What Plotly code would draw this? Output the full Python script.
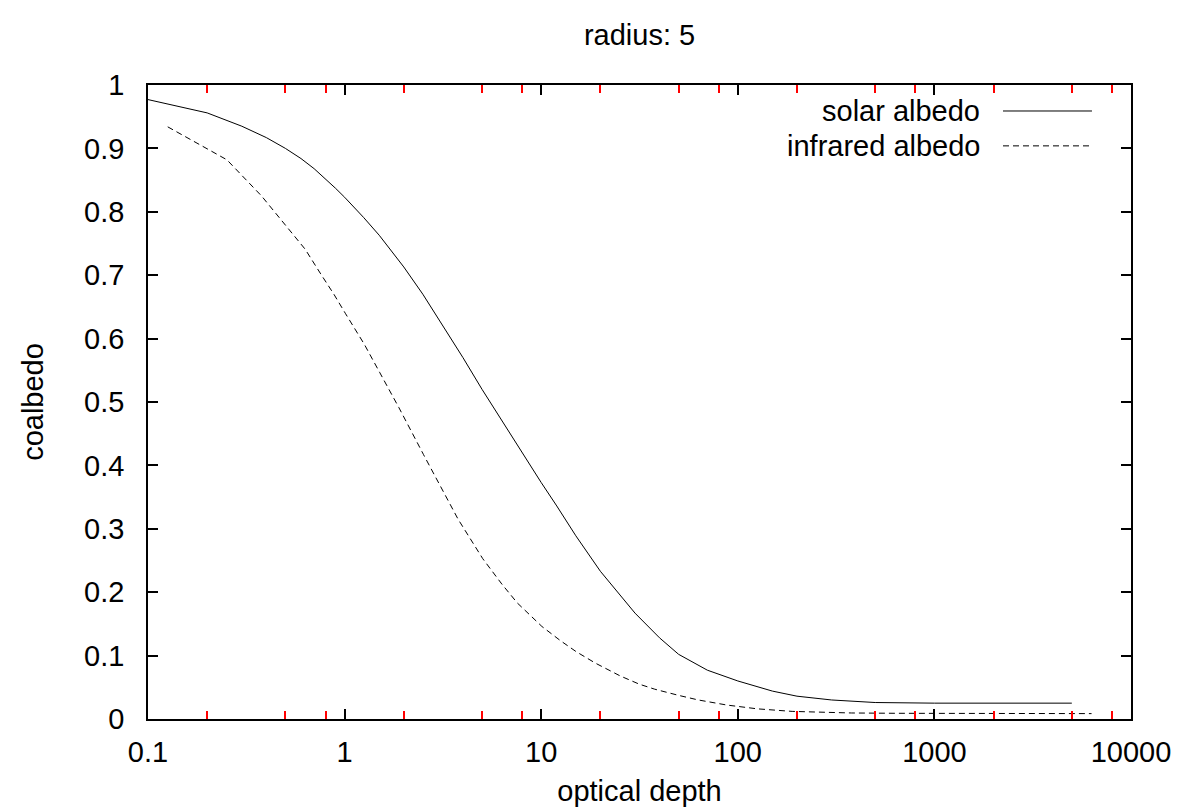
import plotly.graph_objects as go

# ---- data ----
solar_tau = [0.1, 0.2, 0.3, 0.4, 0.5, 0.6, 0.7, 0.8, 0.9, 1.0, 1.25, 1.5, 2, 2.5, 3, 4, 5, 6, 7, 8,
             10, 12, 15, 20, 25, 30, 40, 50, 70, 100, 150, 200, 300, 500, 1000, 2000, 5000]
solar_albedo = [0.977, 0.956, 0.935, 0.917, 0.900, 0.884, 0.868, 0.852, 0.837, 0.823, 0.791,
                0.763, 0.713, 0.670, 0.632, 0.570, 0.520, 0.481, 0.448, 0.420, 0.373, 0.336,
                0.289, 0.233, 0.196, 0.167, 0.128, 0.102, 0.077, 0.060, 0.044, 0.036, 0.030,
                0.026, 0.025, 0.025, 0.025]

ir_tau = [0.126, 0.252, 0.378, 0.504, 0.63, 0.756, 0.882, 1.008, 1.26, 1.512, 1.89, 2.52, 3.15,
          3.78, 5.04, 6.3, 7.56, 10.08, 12.6, 15.1, 18.9, 25.2, 31.5, 37.8, 50.4, 63, 88, 126,
          189, 252, 378, 630, 1260, 2520, 6300]
ir_albedo = [0.934, 0.882, 0.825, 0.777, 0.741, 0.702, 0.670, 0.640, 0.591, 0.546, 0.491,
             0.417, 0.360, 0.315, 0.253, 0.213, 0.183, 0.146, 0.123, 0.106, 0.088, 0.068,
             0.055, 0.047, 0.037, 0.030, 0.022, 0.016, 0.012, 0.0105, 0.0095, 0.009, 0.0087,
             0.0086, 0.0085]

series_names = ["solar albedo", "infrared albedo"]
x_tickvals = [0.1, 1, 10, 100, 1000, 10000]
x_ticktext = ["0.1", "1", "10", "100", "1000", "10000"]
x_minorvals = [m * 10 ** e for e in range(-1, 4) for m in (2, 5, 8)]
title_text = "radius: 5"
x_title = "optical depth"
y_title = "coalbedo"

FONT = "Liberation Sans, Arial, sans-serif"
FS = 29

fig = go.Figure()
fig.add_trace(go.Scatter(x=solar_tau, y=solar_albedo, mode="lines", name=series_names[0],
                         line=dict(color="black", width=1), showlegend=False))
fig.add_trace(go.Scatter(x=ir_tau, y=ir_albedo, mode="lines", name=series_names[1],
                         line=dict(color="black", width=1, dash="6px,4px"), showlegend=False))

tickfont = dict(family=FONT, size=FS, color="black")

fig.update_layout(
    xaxis=dict(type="log", range=[-1, 4], tickmode="array", tickvals=x_tickvals,
               ticktext=x_ticktext, ticks="inside", ticklen=10, tickwidth=1.5,
               tickcolor="black", ticklabelstandoff=6, tickfont=tickfont,
               minor=dict(tickmode="array", tickvals=x_minorvals, ticks="inside",
                          ticklen=8, tickwidth=2, tickcolor="red", showgrid=False),
               showline=True, linecolor="black", linewidth=1.5, mirror="allticks",
               showgrid=False, zeroline=False,
               title=dict(text=x_title, font=tickfont, standoff=14)),
    yaxis=dict(range=[0, 1], dtick=0.1, tick0=0, ticks="inside", ticklen=10, tickwidth=1.5,
               tickcolor="black", ticklabelstandoff=16, tickfont=tickfont,
               showline=True, linecolor="black", linewidth=1.5, mirror="allticks",
               showgrid=False, zeroline=False,
               title=dict(text=y_title, font=tickfont, standoff=32)),
)

leg_y = [0.959, 0.904]
dashes = ["solid", "6px,4px"]
for name, yy, d in zip(series_names, leg_y, dashes):
    fig.add_annotation(x=0.8484, y=yy, xref="paper", yref="paper", text=name,
                       showarrow=False, xanchor="right", yanchor="middle",
                       font=tickfont)
    fig.add_shape(type="line", xref="paper", yref="paper", x0=0.8698, x1=0.9603,
                  y0=yy, y1=yy, line=dict(color="black", width=1, dash=d))

fig.update_layout(
    width=1186, height=812,
    margin=dict(l=140, r=63, t=77, b=101),
    paper_bgcolor="white", plot_bgcolor="white",
    title=dict(text=title_text, x=0.5325, xanchor="center", y=1 - 27 / 812,
               yanchor="middle", yref="container", font=tickfont),
    showlegend=False,
)

fig.write_html("out.html")
